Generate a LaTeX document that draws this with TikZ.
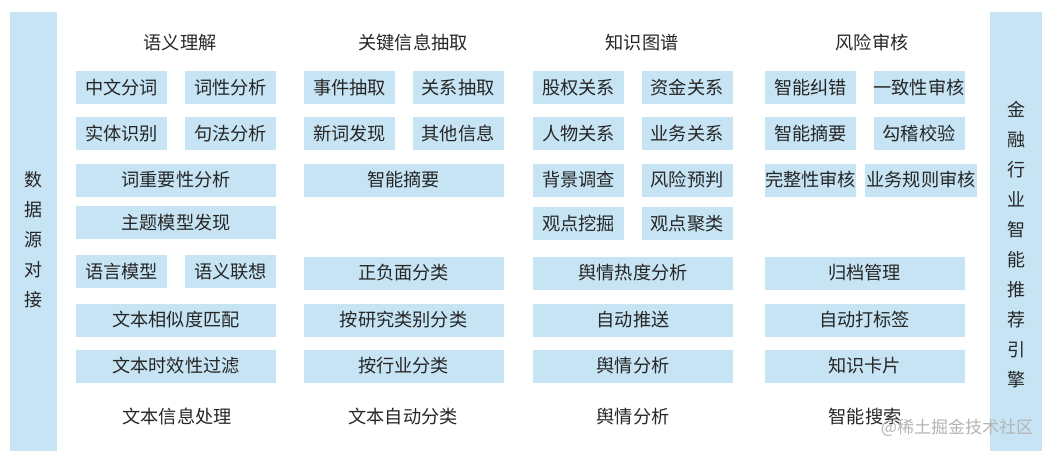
\documentclass[tikz,border=0pt]{standalone}
\usepackage{fontspec}
\setmainfont{Noto Sans CJK SC}
\definecolor{boxblue}{HTML}{C6E4F4}
\definecolor{txt}{HTML}{262626}
\definecolor{wm}{HTML}{B4B4B4}
\tikzset{
  cell/.style={fill=boxblue, draw=none, inner sep=0pt, minimum height=33pt, text=txt, font=\fontsize{18.2}{19}\selectfont},
  sm/.style={cell, minimum width=91pt},
  wd/.style={cell, minimum width=200pt},
  ttl/.style={text=txt, inner sep=0pt, font=\fontsize{18.2}{19}\selectfont},
  bar/.style={fill=boxblue, draw=none},
  vtxt/.style={text=txt, inner sep=0pt, align=center, font=\fontsize{18}{30}\selectfont}
}
\begin{document}
\begin{tikzpicture}[x=1pt,y=-1pt]
\useasboundingbox (0,0) rectangle (1052,451);
% side bars
\fill[bar] (10,12) rectangle (57,451);
\fill[bar] (990,12) rectangle (1042,451);
\node[vtxt] (left) at (33.5,240) {数\\据\\源\\对\\接};
\node[vtxt] (right) at (1016,245) {金\\融\\行\\业\\智\\能\\推\\荐\\引\\擎};
% column 1
\node[ttl] (t1) at (180,43) {语义理解};
\node[sm] (a1) at (121.5,87.5) {中文分词};
\node[sm] (a2) at (230.5,87.5) {词性分析};
\node[sm] (a3) at (121.5,133.5) {实体识别};
\node[sm] (a4) at (230.5,133.5) {句法分析};
\node[wd] (a5) at (176,180) {词重要性分析};
\node[wd] (a6) at (176,222.5) {主题模型发现};
\node[sm] (a7) at (121.5,271.5) {语言模型};
\node[sm] (a8) at (230.5,271.5) {语义联想};
\node[wd] (a9) at (176,320) {文本相似度匹配};
\node[wd] (a10) at (176,366) {文本时效性过滤};
\node[ttl] (b1) at (177,417) {文本信息处理};
% column 2
\node[ttl] (t2) at (413,43) {关键信息抽取};
\node[sm] (c1) at (349.5,87.5) {事件抽取};
\node[sm] (c2) at (458,87.5) {关系抽取};
\node[sm] (c3) at (349.5,133.5) {新词发现};
\node[sm] (c4) at (458,133.5) {其他信息};
\node[wd] (c5) at (403.5,180) {智能摘要};
\node[wd] (c6) at (403.5,273) {正负面分类};
\node[wd] (c7) at (403.5,320) {按研究类别分类};
\node[wd] (c8) at (403.5,366) {按行业分类};
\node[ttl] (b2) at (403,417) {文本自动分类};
% column 3
\node[ttl] (t3) at (642,43) {知识图谱};
\node[sm] (d1) at (578.5,87.5) {股权关系};
\node[sm] (d2) at (687,87.5) {资金关系};
\node[sm] (d3) at (578.5,133.5) {人物关系};
\node[sm] (d4) at (687,133.5) {业务关系};
\node[sm] (d5) at (578.5,180) {背景调查};
\node[sm] (d6) at (687,180) {风险预判};
\node[sm] (d7) at (578.5,223.5) {观点挖掘};
\node[sm] (d8) at (687,223.5) {观点聚类};
\node[wd] (d9) at (633,273) {舆情热度分析};
\node[wd] (d10) at (633,320) {自动推送};
\node[wd] (d11) at (633,366) {舆情分析};
\node[ttl] (b3) at (633,417) {舆情分析};
% column 4
\node[ttl] (t4) at (872,43) {风险审核};
\node[sm] (e1) at (810.5,87.5) {智能纠错};
\node[sm] (e2) at (919,87.5) {一致性审核};
\node[sm] (e3) at (810.5,133.5) {智能摘要};
\node[sm] (e4) at (919,133.5) {勾稽校验};
\node[sm] (e5) at (810.5,180) {完整性审核};
\node[cell, minimum width=112pt] (e6) at (921,180) {业务规则审核};
\node[wd] (e7) at (864.5,273) {归档管理};
\node[wd] (e8) at (864.5,320) {自动打标签};
\node[wd] (e9) at (864.5,366) {知识卡片};
\node[ttl] (b4) at (865,417) {智能搜索};
% watermark
\node[text=wm, inner sep=0pt, font=\fontsize{17}{18}\selectfont] (wmark) at (957,428) {@稀土掘金技术社区};
\end{tikzpicture}
\end{document}
